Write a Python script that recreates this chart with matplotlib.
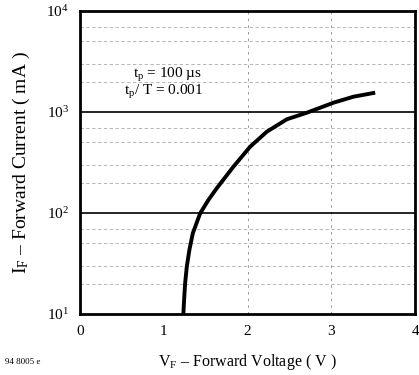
import matplotlib
matplotlib.use("Agg")
import matplotlib.pyplot as plt

# Data
vf = [1.233, 1.242, 1.254, 1.274, 1.305, 1.346, 1.433, 1.532, 1.632, 1.830,
      2.03, 2.229, 2.468, 2.707, 3.025, 3.263, 3.522]
i_f = [10, 13.8, 20.1, 29.4, 43.1, 63.0, 99, 134.6, 176, 287,
       453, 638, 847, 984, 1236, 1417, 1553]
x_ticks = [0, 1, 2, 3, 4]
x_ticklabels = ["0", "1", "2", "3", "4"]
y_ticks = [10, 100, 1000, 10000]
y_ticklabels = ["$10^1$", "$10^2$", "$10^3$", "$10^4$"]

plt.rcParams['font.family'] = ['Liberation Serif', 'DejaVu Serif']
plt.rcParams['mathtext.fontset'] = 'custom'
plt.rcParams['mathtext.rm'] = 'Liberation Serif'
plt.rcParams['mathtext.it'] = 'Liberation Serif'

fig = plt.figure(figsize=(4.19, 3.75), dpi=100)
ax = fig.add_axes([0.191, 0.1627, 0.800, 0.808])

ax.set_yscale('log')
ax.set_xlim(0, 4)
ax.set_ylim(10, 10000)

# faint grid
for d in [10, 100, 1000]:
    for m in [2, 3, 5, 7]:
        ax.axhline(d * m, color='#aaaaaa', lw=0.6, ls=(0, (4, 3)), zorder=1)
for xv in [2, 3]:
    ax.axvline(xv, color='#888888', lw=0.6, ls=(0, (3, 5)), zorder=1)
for yv in [100, 1000]:
    ax.axhline(yv, color='black', lw=1.2, zorder=2)

ax.plot(vf, i_f, color='black', lw=2.8, zorder=3, solid_capstyle='butt',
        solid_joinstyle='round')

for s in ax.spines.values():
    s.set_linewidth(2)

ax.set_xticks(x_ticks)
ax.set_xticklabels(x_ticklabels, fontsize=11)
ax.set_yticks(y_ticks)
ax.set_yticklabels(y_ticklabels, fontsize=11)
ax.yaxis.set_minor_locator(matplotlib.ticker.NullLocator())
ax.tick_params(length=0, pad=8)

ax.text(1.04, 2323, "t$_\\mathrm{p}$ = 100 µs", ha='center', va='center', fontsize=11)
ax.text(1.00, 1578, "t$_\\mathrm{p}$/ T = 0.001", ha='center', va='center', fontsize=11)

ax.set_xlabel("V$_\\mathrm{F}$ – Forward Voltage ( V )", fontsize=11.5, labelpad=10)
ax.set_ylabel("I$_\\mathrm{F}$ – Forward Current ( mA )", fontsize=14, labelpad=10)

fig.text(0.012, 0.03, "94 8005 e", fontsize=6.5)

fig.savefig("out.png", dpi=100)
